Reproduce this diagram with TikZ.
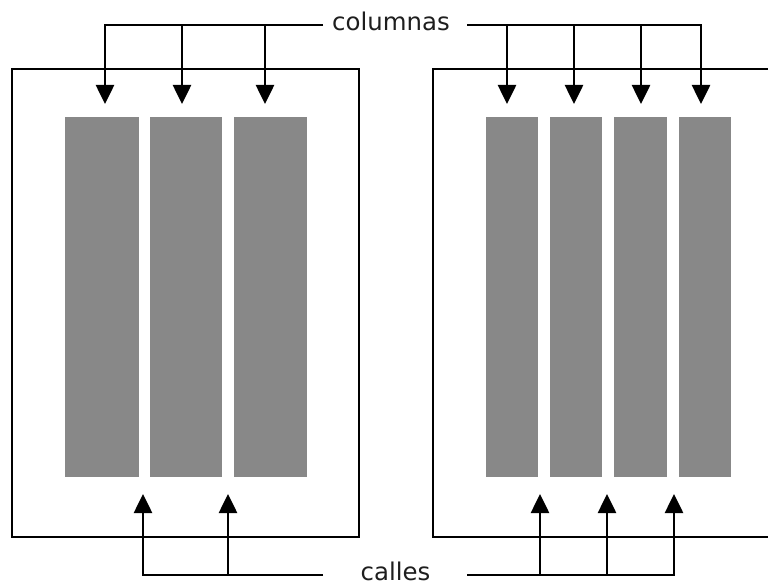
\documentclass[tikz,border=0pt]{standalone}
\usepackage{fontspec}
\setmainfont{DejaVu Sans}
\usetikzlibrary{arrows.meta}
\definecolor{colgray}{RGB}{136,136,136}
\definecolor{txtcol}{RGB}{30,30,30}
\begin{document}
\begin{tikzpicture}[x=1bp,y=-1bp, line width=2.6bp,
  pagebox/.style={draw=black, line width=2.6bp, inner sep=0pt, outer sep=0pt, anchor=north west},
  colbox/.style={fill=colgray, draw=none, inner sep=0pt, outer sep=0pt, anchor=north west, minimum height=360bp},
  lbl/.style={font=\fontsize{24.5}{27}\selectfont, text=txtcol, inner sep=0pt, anchor=base},
  arr/.style={-{Triangle[width=18bp,length=19bp]}, line width=2.6bp}]
\useasboundingbox (0,0) rectangle (768,585);
\fill[white] (0,0) rectangle (768,585);
\begin{scope}
\clip (0,0) rectangle (768,585);
% pages
\node[pagebox, minimum width=347bp, minimum height=468bp] (pageL) at (12,69) {};
\node[pagebox, minimum width=360bp, minimum height=468bp] (pageR) at (433,69) {};
% columns left
\node[colbox, minimum width=74bp] (cl1) at (65,117) {};
\node[colbox, minimum width=72bp] (cl2) at (150,117) {};
\node[colbox, minimum width=73bp] (cl3) at (234,117) {};
% columns right
\node[colbox, minimum width=52bp] (cr1) at (486,117) {};
\node[colbox, minimum width=52bp] (cr2) at (550,117) {};
\node[colbox, minimum width=53bp] (cr3) at (614,117) {};
\node[colbox, minimum width=52bp] (cr4) at (679,117) {};
% labels
\node[lbl] (columnas) at (391,31) {columnas};
\node[lbl] (calles) at (395.5,580) {calles};
% connector coordinates
\coordinate (tL) at (323,25);
\coordinate (tR) at (467,25);
\coordinate (bLc) at (323,575);
\coordinate (bRc) at (467,575);
\coordinate (aL1) at (105,104);
\coordinate (aL2) at (182,104);
\coordinate (aL3) at (265,104);
\coordinate (aR1) at (507,104);
\coordinate (aR2) at (574,104);
\coordinate (aR3) at (641,104);
\coordinate (aR4) at (701,104);
\coordinate (gL1) at (143,494);
\coordinate (gL2) at (228,494);
\coordinate (gR1) at (540,494);
\coordinate (gR2) at (607,494);
\coordinate (gR3) at (674,494);
% top connectors
\draw[arr] (tL) -| (aL1);
\draw[arr] (aL2 |- tL) -- (aL2);
\draw[arr] (aL3 |- tL) -- (aL3);
\draw[arr] (tR) -| (aR4);
\draw[arr] (aR1 |- tR) -- (aR1);
\draw[arr] (aR2 |- tR) -- (aR2);
\draw[arr] (aR3 |- tR) -- (aR3);
% bottom connectors
\draw[arr] (bLc) -| (gL1);
\draw[arr] (gL2 |- bLc) -- (gL2);
\draw[arr] (bRc) -| (gR3);
\draw[arr] (gR1 |- bRc) -- (gR1);
\draw[arr] (gR2 |- bRc) -- (gR2);
\end{scope}
\end{tikzpicture}
\end{document}
